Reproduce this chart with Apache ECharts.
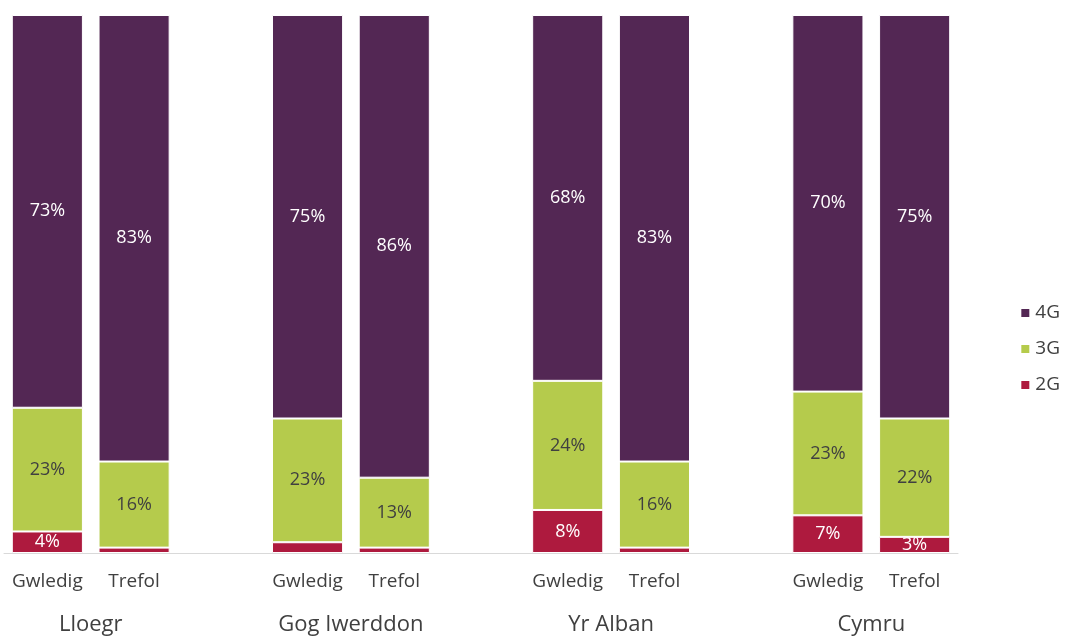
<!DOCTYPE html>
<html>
<head>
<meta charset="utf-8">
<script src="https://cdn.jsdelivr.net/npm/echarts@6/dist/echarts.min.js"></script>
<style>
  html, body { margin: 0; padding: 0; background: #fff; }
  #chart { width: 1069px; height: 636px; }
</style>
</head>
<body>
<div id="chart"></div>
<script>
// Bar slots: Gwledig / Trefol per nation, with an empty slot between nations
const categories = ['Gwledig', 'Trefol', '', 'Gwledig', 'Trefol', '', 'Gwledig', 'Trefol', '', 'Gwledig', 'Trefol'];
// Nation names, placed on the boundary between each pair of bars
const groupLabels = ['', 'Lloegr', '', '', 'Gog Iwerddon', '', '', 'Yr Alban', '', '', 'Cymru', ''];
const legendNames = ['4G', '3G', '2G'];

// Share of connections (%) by technology
const values2G = [4, 1, null, 2, 1, null, 8, 1, null, 7, 3];
const values3G = [23, 16, null, 23, 13, null, 24, 16, null, 23, 22];
const values4G = [73, 83, null, 75, 86, null, 68, 83, null, 70, 75];

const FONT = '"Open Sans", "Noto Sans", sans-serif';
const pct = p => (p.value == null || p.value < 3) ? '' : p.value + '%';

function barSeries(name, data, color, labelColor) {
  return {
    name: name,
    type: 'bar',
    stack: 'share',
    data: data,
    barWidth: '82%',
    itemStyle: { color: color, borderColor: '#ffffff', borderWidth: 1 },
    label: {
      show: true,
      position: 'inside',
      formatter: pct,
      color: labelColor,
      fontFamily: FONT,
      fontSize: 18
    },
    emphasis: { disabled: true }
  };
}

const chart = echarts.init(document.getElementById('chart'), null, { renderer: 'canvas' });
chart.setOption({
  animation: false,
  backgroundColor: '#ffffff',
  grid: { left: 4, right: 111, top: 15, bottom: 82, containLabel: false },
  legend: {
    data: legendNames,
    orient: 'vertical',
    right: 4,
    top: 298,
    itemWidth: 10,
    itemHeight: 10,
    itemGap: 16,
    icon: 'rect',
    textStyle: { fontFamily: FONT, fontSize: 19, lineHeight: 20, color: '#404040' }
  },
  xAxis: [
    {
      type: 'category',
      data: categories,
      axisLine: { lineStyle: { color: '#d9d9d9', width: 1 } },
      axisTick: { show: false },
      axisLabel: { interval: 0, margin: 19, fontFamily: FONT, fontSize: 19, color: '#404040' }
    },
    {
      type: 'category',
      data: groupLabels,
      boundaryGap: false,
      position: 'bottom',
      axisLine: { show: false },
      axisTick: { show: false },
      axisLabel: { interval: 0, margin: 61, fontFamily: FONT, fontSize: 22, color: '#404040' }
    }
  ],
  yAxis: {
    type: 'value',
    min: 0,
    max: 100,
    show: false
  },
  series: [
    barSeries('2G', values2G, '#ae1a3e', '#ffffff'),
    barSeries('3G', values3G, '#b5cb4c', '#404040'),
    barSeries('4G', values4G, '#532754', '#ffffff')
  ]
});
</script>
</body>
</html>
